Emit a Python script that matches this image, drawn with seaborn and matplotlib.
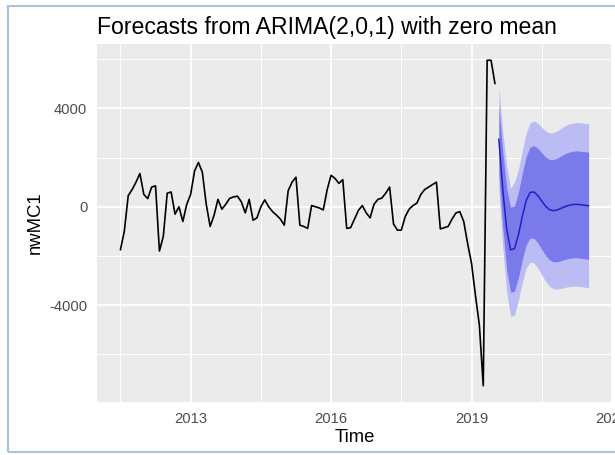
import numpy as np
import pandas as pd
import matplotlib
matplotlib.use("Agg")
import matplotlib.pyplot as plt
import seaborn as sns
from matplotlib.patches import Rectangle

# Monthly series nwMC1, starting July 2011
start_year = 2011.5
nwmc1 = [
    -1750, -1000, 450, 700, 1000, 1350, 500, 330, 800, 850,
    -1800, -1200, 550, 600, -300, 0, -600, 100, 500, 1450,
    1800, 1400, 100, -800, -350, 300, -100, 100, 340, 400,
    430, 200, -250, 300, -550, -450, 0, 280, 0, -200,
    -340, -500, -750, 650, 1000, 1200, -750, -800, -880, 50,
    0, -50, -130, 700, 1280, 1150, 950, 1100, -880, -850,
    -500, -150, 50, -250, -450, 100, 300, 350, 550, 800,
    -700, -950, -950, -400, -100, 50, 150, 500, 700, 800,
    900, 1000, -900, -850, -800, -500, -250, -200, -600, -1500,
    -2300, -3600, -4800, -7270, 5950, 5950, 5000,
]

# 24-month forecast: point forecast and 80% / 95% prediction intervals
fc_mean = [2750, 700, -900, -1750, -1700, -1150, -400, 250, 580, 600,
           450, 230, 20, -120, -160, -130, -60, 10, 60, 90,
           100, 80, 60, 40]
fc_lo80 = [1379, -838, -2560, -3480, -3430, -2880, -2156, -1544, -1265, -1284,
           -1472, -1731, -1979, -2158, -2236, -2232, -2187, -2137, -2099, -2076,
           -2071, -2094, -2115, -2136]
fc_hi80 = [4121, 2238, 760, -20, 30, 580, 1356, 2044, 2425, 2484,
           2372, 2191, 2019, 1918, 1916, 1972, 2067, 2157, 2219, 2256,
           2271, 2254, 2235, 2216]
fc_lo95 = [653, -1652, -3450, -4450, -4400, -3796, -3085, -2494, -2242, -2281,
           -2490, -2769, -3038, -3236, -3335, -3344, -3314, -3273, -3243, -3222,
           -3220, -3244, -3266, -3288]
fc_hi95 = [4847, 3052, 1650, 750, 1000, 1496, 2285, 2994, 3402, 3481,
           3390, 3229, 3078, 2996, 3015, 3084, 3194, 3293, 3363, 3402,
           3420, 3404, 3386, 3368]

x_ticks = [2013, 2016, 2019, 2022]
y_ticks = [-4000, 0, 4000]

hist = pd.DataFrame({
    "Time": start_year + np.arange(len(nwmc1)) / 12.0,
    "nwMC1": nwmc1,
})
fc = pd.DataFrame({
    "Time": start_year + (len(nwmc1) + np.arange(len(fc_mean))) / 12.0,
    "mean": fc_mean, "lo80": fc_lo80, "hi80": fc_hi80,
    "lo95": fc_lo95, "hi95": fc_hi95,
})

sns.set_theme(style="darkgrid", rc={
    "axes.facecolor": "#EBEBEB",
    "grid.color": "white",
    "axes.edgecolor": "none",
})
plt.rcParams["font.family"] = ["Liberation Sans", "DejaVu Sans"]

W, H = 615, 455
fig = plt.figure(figsize=(W / 100, H / 100), dpi=100)
ax = fig.add_axes([97 / W, 1 - 402 / H, 515 / W, 358 / H])

# prediction intervals
ax.fill_between(fc["Time"], fc["lo95"], fc["hi95"], color="#BCBCF4", lw=0, zorder=2)
ax.fill_between(fc["Time"], fc["lo80"], fc["hi80"], color="#7A7AEA", lw=0, zorder=3)

sns.lineplot(data=hist, x="Time", y="nwMC1", ax=ax, color="black", lw=1.2, zorder=4)
sns.lineplot(data=fc, x="Time", y="mean", ax=ax, color="#2020C8", lw=1.1, zorder=5)

# axis ranges with 5% padding around the data
t_all = np.concatenate([hist["Time"], fc["Time"]])
y_all = np.concatenate([hist["nwMC1"], fc["lo95"], fc["hi95"]])
tr = t_all.max() - t_all.min()
yr = y_all.max() - y_all.min()
ax.set_xlim(t_all.min() - 0.05 * tr, t_all.max() + 0.05 * tr)
ax.set_ylim(y_all.min() - 0.05 * yr, y_all.max() + 0.05 * yr)

ax.set_xticks(x_ticks)
ax.set_xticklabels([str(v) for v in x_ticks])
ax.set_yticks(y_ticks)
ax.set_yticklabels([str(v) for v in y_ticks])
ax.set_xticks([2011.5, 2014.5, 2017.5, 2020.5], minor=True)
ax.set_yticks([-6000, -2000, 2000, 6000], minor=True)
ax.grid(which="major", color="white", lw=1.3)
ax.grid(which="minor", color="white", lw=0.7)
ax.tick_params(which="major", length=4, width=0.9, color="#333333",
               labelcolor="#4D4D4D", labelsize=10.6, pad=3)
ax.tick_params(which="minor", length=0)
for s in ax.spines.values():
    s.set_visible(False)

ax.set_xlabel("Time", fontsize=13.3, color="black", labelpad=2)
ax.set_ylabel("nwMC1", fontsize=13.3, color="black", labelpad=4)
ax.set_title("Forecasts from ARIMA(2,0,1) with zero mean", loc="left",
             fontsize=16.6, color="black", pad=7)

# window frame
fig.patches.append(Rectangle((8 / W, 1 - 452 / H), 620 / W, 446 / H,
                             transform=fig.transFigure, fill=False,
                             edgecolor="#A9C3DE", lw=1.5))

fig.savefig("out.png", dpi=100, facecolor="white")
